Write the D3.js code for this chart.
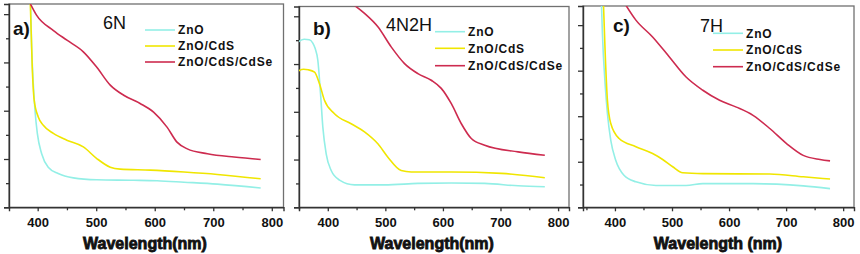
<!DOCTYPE html>
<html>
<head>
<meta charset="utf-8">
<script src="https://cdn.jsdelivr.net/npm/d3@7"></script>
<style>
    body { margin: 0; background: #fff; }
    svg { display: block; }
    .tick text { font-family: "Liberation Sans", Arial, sans-serif; font-weight: bold; font-size: 13px; fill: #111; }
</style>
</head>
<body>
<div id="chart"></div>
<script>
// labels
const seriesNames = ["ZnO", "ZnO/CdS", "ZnO/CdS/CdSe"];
const panelLetters = ["a)", "b)", "c)"];
const panelTitles = ["6N", "4N2H", "7H"];
const axisTitles = ["Wavelength(nm)", "Wavelength(nm)", "Wavelength (nm)"];
const xTicks = [400, 500, 600, 700, 800];
const xMinorTicks = [350, 450, 550, 650, 750];
const yTicks = [0, 1, 2, 3, 4];
const yMinorTicks = [0.5, 1.5, 2.5, 3.5];

// absorbance, [wavelength nm, a.u.]
const zno6N = [[387.5, 4.4], [389.7, 3.32], [392.5, 2.56], [395.4, 2.01], [399.4, 1.53], [406.8, 1.11], [418, 0.83], [435, 0.70], [461, 0.61], [501, 0.57], [564, 0.56], [604, 0.55], [650, 0.52], [707, 0.48], [781, 0.40]];
const cds6N = [[387, 4.4], [390.7, 2.90], [394, 2.22], [401, 1.87], [409.6, 1.70], [426.8, 1.53], [449.7, 1.39], [478, 1.25], [501, 1.01], [524, 0.83], [541, 0.79], [592.6, 0.77], [650, 0.73], [707, 0.68], [781, 0.59]];
const cdse6N = [[386, 4.25], [398, 3.98], [427, 3.66], [450, 3.46], [478, 3.22], [501, 2.90], [524, 2.53], [547, 2.32], [575, 2.15], [598, 1.97], [621, 1.66], [638, 1.35], [655.6, 1.21], [690, 1.11], [735.5, 1.04], [781, 0.99]];

const zno4N2H = [[348, 3.46], [359, 3.52], [368, 3.51], [374, 3.44], [378, 3.33], [382.7, 3.08], [387.4, 2.38], [391.4, 1.68], [397.2, 1.12], [405.9, 0.77], [420.4, 0.57], [446.5, 0.47], [498.7, 0.47], [556.6, 0.50], [614.6, 0.51], [672.6, 0.50], [730.6, 0.45], [777, 0.43]];
const cds4N2H = [[348, 2.85], [358, 2.89], [366, 2.88], [377, 2.83], [385.5, 2.59], [394.2, 2.24], [411.6, 1.96], [440.6, 1.75], [463.8, 1.58], [487, 1.33], [504.4, 1.05], [527.5, 0.77], [545, 0.74], [614.6, 0.74], [701.6, 0.71], [777, 0.62]];
const cdse4N2H = [[432, 4.35], [463.8, 4.06], [487, 3.78], [510.1, 3.36], [533.3, 3.01], [556.6, 2.80], [579.7, 2.66], [597.1, 2.49], [614.6, 2.17], [632, 1.75], [649.3, 1.44], [672.6, 1.30], [730.6, 1.16], [777, 1.09]];

const zno7H = [[376, 4.6], [378, 3.82], [382.7, 2.72], [386.8, 2.06], [392.7, 1.47], [401.5, 1.03], [416.2, 0.70], [436.7, 0.56], [471.9, 0.48], [524.7, 0.48], [554, 0.52], [642, 0.52], [730, 0.47], [777, 0.41]];
const cds7H = [[379.5, 4.6], [382.7, 3.45], [386.8, 2.35], [392.7, 1.84], [407.3, 1.51], [436.7, 1.33], [466, 1.18], [483.6, 1.05], [501.2, 0.89], [518.8, 0.76], [554, 0.74], [671.4, 0.73], [730, 0.67], [777, 0.62]];
const cdse7H = [[416, 4.5], [436.7, 4.11], [466, 3.74], [495.4, 3.30], [524.7, 2.86], [554, 2.57], [583.4, 2.35], [612.8, 2.20], [642, 2.02], [671.4, 1.73], [700.8, 1.40], [730, 1.14], [759.4, 1.05], [777, 1.02]];

const colors = ["#93efe6", "#f0e600", "#cd2b4f"];

class PanelVis {
    constructor(_svg, _id, _layout, _letter, _title, _axisTitle, _series) {
        this.svg = _svg;
        this.id = _id;
        this.layout = _layout;
        this.letter = _letter;
        this.title = _title;
        this.axisTitle = _axisTitle;
        this.series = _series;
        this.initVis();
    }

    initVis() {
        let vis = this;
        let L = vis.layout;

        vis.x = d3.scaleLinear().domain(L.xDomain).range([L.left, L.right]);
        vis.y = d3.scaleLinear().domain([0, L.yMax]).range([L.bottom, L.top]);

        vis.g = vis.svg.append("g");

        vis.g.append("clipPath").attr("id", "clip" + vis.id)
            .append("rect")
            .attr("x", L.left).attr("y", L.top)
            .attr("width", L.right - L.left).attr("height", L.bottom - L.top);

        // frame
        vis.g.append("rect")
            .attr("x", L.left).attr("y", L.top)
            .attr("width", L.right - L.left).attr("height", L.bottom - L.top)
            .attr("fill", "none").attr("stroke", "#707070").attr("stroke-width", 1.3);

        // x axis, major + minor
        vis.g.append("g").attr("transform", `translate(0,${L.bottom})`)
            .call(d3.axisBottom(vis.x).tickValues(xTicks).tickSize(4).tickPadding(6).tickFormat(d3.format("d")))
            .call(g => g.select(".domain").attr("stroke", "#333").attr("stroke-width", 1.4))
            .call(g => g.selectAll(".tick line").attr("stroke", "#333").attr("stroke-width", 1.3));
        vis.g.append("g").attr("transform", `translate(0,${L.bottom})`)
            .call(d3.axisBottom(vis.x).tickValues(xMinorTicks.filter(d => d >= L.xDomain[0])).tickSize(3).tickFormat(""))
            .call(g => g.select(".domain").remove())
            .call(g => g.selectAll(".tick line").attr("stroke", "#333").attr("stroke-width", 1.3));

        // y axis, no labels
        vis.g.append("g").attr("transform", `translate(${L.left},0)`)
            .call(d3.axisLeft(vis.y).tickValues(yTicks).tickSize(5).tickFormat(""))
            .call(g => g.select(".domain").attr("stroke", "#333").attr("stroke-width", 1.4))
            .call(g => g.selectAll(".tick line").attr("stroke", "#333").attr("stroke-width", 1.3));
        vis.g.append("g").attr("transform", `translate(${L.left},0)`)
            .call(d3.axisLeft(vis.y).tickValues(yMinorTicks).tickSize(3).tickFormat(""))
            .call(g => g.select(".domain").remove())
            .call(g => g.selectAll(".tick line").attr("stroke", "#333").attr("stroke-width", 1.3));

        // curves
        let line = d3.line()
            .x(d => vis.x(d[0]))
            .y(d => vis.y(d[1]))
            .curve(d3.curveMonotoneX);

        vis.g.append("g").attr("clip-path", `url(#clip${vis.id})`)
            .selectAll("path")
            .data(vis.series)
            .enter().append("path")
            .attr("d", d => line(d))
            .attr("fill", "none")
            .attr("stroke", (d, i) => colors[i])
            .attr("stroke-width", 1.6);

        // legend
        seriesNames.forEach((name, i) => {
            let ly = L.legendY[i];
            vis.g.append("line")
                .attr("x1", L.legendX).attr("x2", L.legendX + 30)
                .attr("y1", ly).attr("y2", ly)
                .attr("stroke", colors[i]).attr("stroke-width", 1.6);
            vis.g.append("text")
                .attr("x", L.legendX + 33).attr("y", ly + 4.3)
                .attr("font-family", "Liberation Sans, Arial, sans-serif")
                .attr("font-weight", "bold").attr("font-size", 12)
                .attr("letter-spacing", 0.8)
                .attr("fill", "#111")
                .text(name);
        });

        // panel letter and sample name
        vis.g.append("text")
            .attr("x", L.letterPos[0]).attr("y", L.letterPos[1])
            .attr("font-family", "Liberation Sans, Arial, sans-serif")
            .attr("font-weight", "bold").attr("font-size", 19)
            .attr("fill", "#111")
            .text(vis.letter);
        vis.g.append("text")
            .attr("x", L.titlePos[0]).attr("y", L.titlePos[1])
            .attr("font-family", "Liberation Sans, Arial, sans-serif")
            .attr("font-size", 18)
            .attr("fill", "#111")
            .text(vis.title);

        // axis title
        vis.g.append("text")
            .attr("x", L.axisTitleX).attr("y", 249)
            .attr("text-anchor", "middle")
            .attr("font-family", "Liberation Sans, Arial, sans-serif")
            .attr("font-weight", "bold").attr("font-size", 16)
            .attr("fill", "#111").attr("stroke", "#111").attr("stroke-width", 0.8)
            .text(vis.axisTitle);
    }
}

const layouts = [
    { left: 9, right: 283.5, top: 4, bottom: 207.3, xDomain: [351, 820], yMax: 4.21,
      legendX: 145, legendY: [30, 46, 62], letterPos: [13, 35], titlePos: [103, 29], axisTitleX: 145 },
    { left: 299, right: 569, top: 6.5, bottom: 207.3, xDomain: [350, 819], yMax: 4.205,
      legendX: 435, legendY: [31.7, 48.3, 65.7], letterPos: [313, 35], titlePos: [386, 30.5], axisTitleX: 432 },
    { left: 583, right: 854, top: 6, bottom: 207.3, xDomain: [344, 819], yMax: 4.42,
      legendX: 713, legendY: [33.3, 50, 66.7], letterPos: [613, 32], titlePos: [700, 31.5], axisTitleX: 718 }
];
const panelSeries = [
    [zno6N, cds6N, cdse6N],
    [zno4N2H, cds4N2H, cdse4N2H],
    [zno7H, cds7H, cdse7H]
];

let svg = d3.select("#chart").append("svg")
    .attr("width", 860)
    .attr("height", 254);

layouts.forEach((L, i) => {
    new PanelVis(svg, i, L, panelLetters[i], panelTitles[i], axisTitles[i], panelSeries[i]);
});
</script>
</body>
</html>
